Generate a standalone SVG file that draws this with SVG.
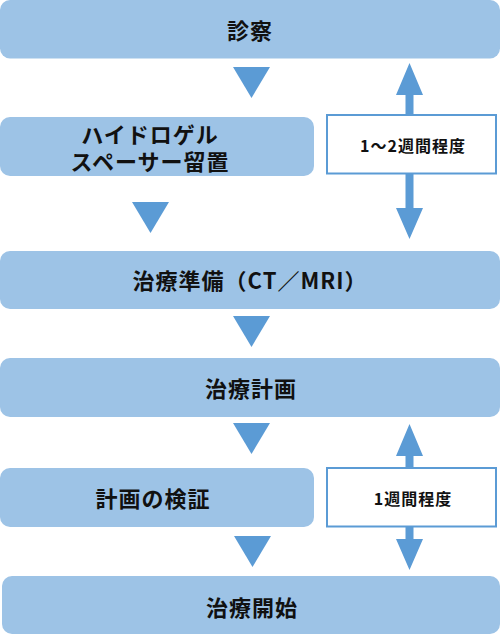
<svg xmlns="http://www.w3.org/2000/svg" width="500" height="635" viewBox="0 0 500 635">
<style>
.box{fill:#9dc3e6}
.side{fill:#ffffff;stroke:#5b9bd5;stroke-width:2}
.tri{fill:#5b9bd5}
.t{font-family:"Noto Sans CJK JP","Noto Sans",sans-serif;font-weight:bold;font-size:22px;fill:#111111;text-anchor:middle;dominant-baseline:central;letter-spacing:1px}
.s{font-family:"Noto Sans CJK JP","Noto Sans",sans-serif;font-weight:bold;font-size:16px;fill:#111111;text-anchor:middle;dominant-baseline:central;letter-spacing:1px}
</style>
<g id="connectors">
<polygon class="tri" points="233,67 270,67 251.5,98"/>
<polygon class="tri" points="132,202 169,202 150.5,233"/>
<polygon class="tri" points="233,316 270,316 251.5,347"/>
<polygon class="tri" points="233,423 270,423 251.5,454"/>
<polygon class="tri" points="234,536 271,536 252.5,567"/>
<polygon class="tri" points="409.5,63 423,95 413.5,95 413.5,115 405.5,115 405.5,95 396,95"/>
<polygon class="tri" points="405.5,174 413.5,174 413.5,208 423,208 409.5,239 396,208 405.5,208"/>
<polygon class="tri" points="409.5,424 423,456 413.5,456 413.5,468 405.5,468 405.5,456 396,456"/>
<polygon class="tri" points="405.5,527 413.5,527 413.5,539 423,539 409.5,570 396,539 405.5,539"/>
</g>
<g id="n1"><rect class="box" x="0" y="0" width="500" height="58.5" rx="10"/><text class="t" x="250" y="29">診察</text></g>
<g id="n2"><rect class="box" x="0" y="117" width="314" height="59" rx="10"/><text class="t" x="150" y="132.5">ハイドロゲル</text><text class="t" x="150" y="159.5">スペーサー留置</text></g>
<g id="n3"><rect class="side" x="327" y="115" width="169" height="58.5"/><text class="s" x="413" y="145">1〜2週間程度</text></g>
<g id="n4"><rect class="box" x="0" y="251" width="500" height="58" rx="10"/><text class="t" x="250" y="279">治療準備（CT／MRI）</text></g>
<g id="n5"><rect class="box" x="0" y="358" width="500" height="59" rx="10"/><text class="t" x="251" y="387">治療計画</text></g>
<g id="n6"><rect class="box" x="0" y="468" width="314" height="59" rx="10"/><text class="t" x="153" y="497">計画の検証</text></g>
<g id="n7"><rect class="side" x="327" y="468" width="169" height="58.5"/><text class="s" x="413" y="498">1週間程度</text></g>
<g id="n8"><rect class="box" x="2" y="576" width="498" height="58" rx="10"/><text class="t" x="252" y="606">治療開始</text></g>
</svg>
